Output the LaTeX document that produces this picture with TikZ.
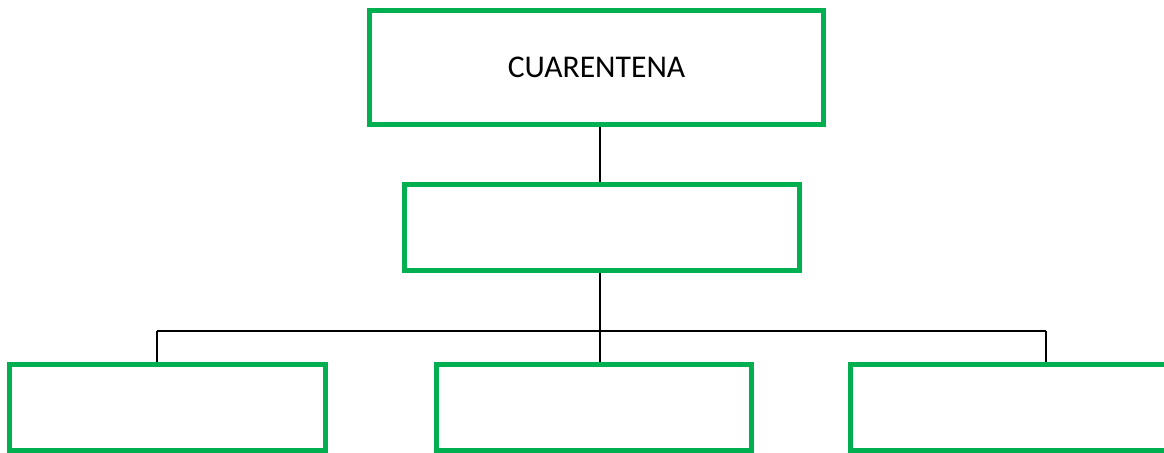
\documentclass[tikz,border=0pt]{standalone}
\usepackage{fontspec}
\setmainfont{Carlito}
\definecolor{boxgreen}{HTML}{00B050}
\begin{document}
\begin{tikzpicture}[x=0.02cm, y=-0.02cm,
                   box/.style={draw=boxgreen, line width=0.1cm, fill=white, inner sep=0pt},
                   bigbox/.style={box, minimum width=9.08cm, minimum height=2.28cm},
                   midbox/.style={box, minimum width=7.9cm, minimum height=1.72cm},
                   leafbox/.style={box, minimum width=6.32cm, minimum height=1.73cm},
                   link/.style={draw=black, line width=0.85pt}]
	\useasboundingbox (0,0) rectangle (1164,453);
	\clip (0,0) rectangle (1164,453);
	% the three levels
	\node[bigbox, font=\fontsize{18}{22}\selectfont] (cuarentena) at (596.5,67.5) {CUARENTENA};
	\node[midbox] (mid) at (602,227.5) {};
	\node[leafbox] (leafl) at (167.5,407.5) {};
	\node[leafbox] (leafc) at (594,407.5) {};
	\node[leafbox] (leafr) at (1008.5,407.5) {};
	% branch points
	\coordinate (jl) at (157,331);
	\coordinate (jc) at (600,331);
	\coordinate (jr) at (1046,331);
	\draw[link] (cuarentena.south -| jc) -- (mid.north -| jc);
	\draw[link] (mid.south -| jc) -- (jc);
	\draw[link] (jl) -- (jr);
	\draw[link] (jl) -- (jl |- leafl.north);
	\draw[link] (jc) -- (jc |- leafc.north);
	\draw[link] (jr) -- (jr |- leafr.north);
\end{tikzpicture}
\end{document}
